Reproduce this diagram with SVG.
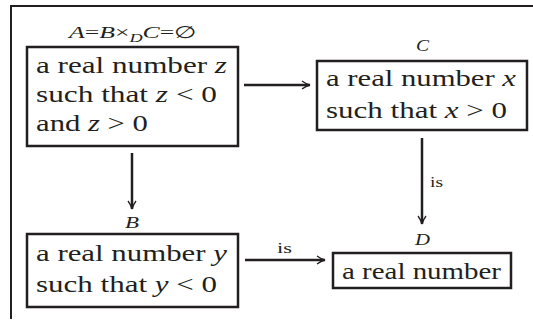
<svg xmlns="http://www.w3.org/2000/svg" width="533" height="322" viewBox="0 0 533 322">
<style>
.frame{fill:none;stroke:#231f20;stroke-width:2}
.box{fill:#fff;stroke:#231f20;stroke-width:2.5}
.t{font-family:'Liberation Serif',serif;font-size:23px;fill:#231f20}
.lab{font-family:'Liberation Serif',serif;font-size:17px;fill:#231f20;font-style:italic}
.is{font-family:'Liberation Serif',serif;font-size:15px;fill:#231f20}
.i{font-style:italic}
.edge{fill:none;stroke:#231f20;stroke-width:2.5}
</style>
<defs>
<marker id="arr" viewBox="0 0 10 10" refX="9" refY="5" markerWidth="10" markerHeight="10" markerUnits="userSpaceOnUse" orient="auto">
<path d="M1,1 Q5,4 9,5 Q5,6 1,9" fill="none" stroke="#231f20" stroke-width="1.3"/>
</marker>
</defs>
<rect width="533" height="322" fill="#fff"/>
<path class="frame" d="M11,319 V6 H533"/>
<g id="connectors">
<line class="edge" x1="244" y1="85" x2="310" y2="85" marker-end="url(#arr)"/>
<line class="edge" x1="132" y1="153" x2="132" y2="209" marker-end="url(#arr)"/>
<line class="edge" x1="422" y1="138" x2="422" y2="224" marker-end="url(#arr)"/>
<text class="is" x="430" y="187" textLength="13" lengthAdjust="spacingAndGlyphs">is</text>
<line class="edge" x1="245" y1="260" x2="325" y2="260" marker-end="url(#arr)"/>
<text class="is" x="277" y="253" textLength="15" lengthAdjust="spacingAndGlyphs">is</text>
</g>
<g id="A">
<text class="lab" x="69" y="38" textLength="128" lengthAdjust="spacingAndGlyphs"><tspan>A</tspan><tspan font-style="normal">=</tspan><tspan>B</tspan><tspan font-style="normal">×</tspan><tspan font-size="12" dy="4">D</tspan><tspan dy="-4">C</tspan><tspan font-style="normal">=∅</tspan></text>
<rect class="box" x="27" y="47" width="211" height="99"/>
<text class="t" x="36" y="73" textLength="191" lengthAdjust="spacingAndGlyphs">a real number <tspan class="i">z</tspan></text>
<text class="t" x="36" y="102" textLength="181" lengthAdjust="spacingAndGlyphs">such that <tspan class="i">z</tspan> &lt; 0</text>
<text class="t" x="36" y="131" textLength="112" lengthAdjust="spacingAndGlyphs">and <tspan class="i">z</tspan> &gt; 0</text>
</g>
<g id="C">
<text class="lab" x="416" y="51" textLength="13" lengthAdjust="spacingAndGlyphs">C</text>
<rect class="box" x="317" y="61" width="210" height="69"/>
<text class="t" x="326" y="86" textLength="190" lengthAdjust="spacingAndGlyphs">a real number <tspan class="i">x</tspan></text>
<text class="t" x="326" y="118" textLength="181" lengthAdjust="spacingAndGlyphs">such that <tspan class="i">x</tspan> &gt; 0</text>
</g>
<g id="B">
<text class="lab" x="125" y="228" textLength="14" lengthAdjust="spacingAndGlyphs">B</text>
<rect class="box" x="27" y="234" width="211" height="73"/>
<text class="t" x="36" y="261" textLength="191" lengthAdjust="spacingAndGlyphs">a real number <tspan class="i">y</tspan></text>
<text class="t" x="36" y="292" textLength="181" lengthAdjust="spacingAndGlyphs">such that <tspan class="i">y</tspan> &lt; 0</text>
</g>
<g id="D">
<text class="lab" x="415" y="245" textLength="15" lengthAdjust="spacingAndGlyphs">D</text>
<rect class="box" x="333" y="253" width="178" height="35"/>
<text class="t" x="342" y="279" textLength="159" lengthAdjust="spacingAndGlyphs">a real number</text>
</g>
</svg>
